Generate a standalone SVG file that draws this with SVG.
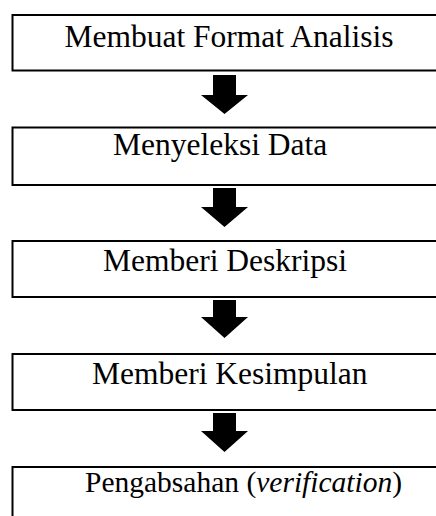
<svg xmlns="http://www.w3.org/2000/svg" width="436" height="516" viewBox="0 0 436 516">
<style>
.box{fill:#fff;stroke:#000;stroke-width:2}
.t{font-family:"Liberation Serif","Times New Roman",serif;font-size:31.5px;fill:#000}
.arr{fill:#000}
</style>
<rect width="436" height="516" fill="#fff"/>
<g id="n1"><rect class="box" x="12.5" y="15" width="460" height="55.5"/><text class="t" x="64.5" y="46.5">Membuat Format Analisis</text></g>
<g id="n2"><rect class="box" x="12.5" y="127.5" width="460" height="57.5"/><text class="t" x="113" y="155">Menyeleksi Data</text></g>
<g id="n3"><rect class="box" x="12.5" y="241" width="460" height="56"/><text class="t" x="103" y="270.5">Memberi Deskripsi</text></g>
<g id="n4"><rect class="box" x="12.5" y="354" width="460" height="56"/><text class="t" x="92" y="384">Memberi Kesimpulan</text></g>
<g id="n5"><rect class="box" x="12.5" y="467" width="460" height="80"/><text class="t" x="85" y="492" style="font-size:29.5px">Pengabsahan (<tspan font-style="italic">verification</tspan>)</text></g>
<g id="connectors">
<path class="arr" d="M213 75H236V95H248L224.5 114L201 95H213Z"/>
<path class="arr" d="M213 188H236V207H248L224.5 227L201 207H213Z"/>
<path class="arr" d="M213 300H236V317H248L224.5 338L201 317H213Z"/>
<path class="arr" d="M213 413H236V431H248L224.5 452L201 431H213Z"/>
</g>
</svg>
